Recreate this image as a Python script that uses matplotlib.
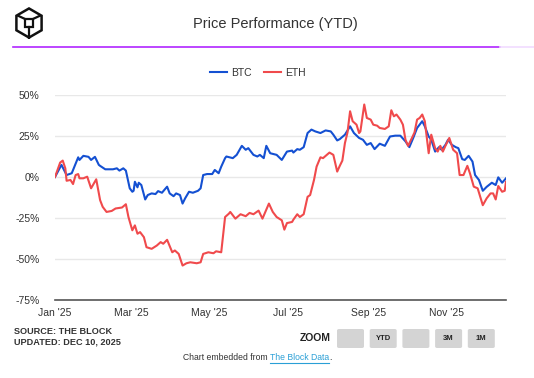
import matplotlib
matplotlib.use("Agg")
import matplotlib.pyplot as plt
import matplotlib.dates as mdates
from matplotlib.patches import FancyBboxPatch, RegularPolygon
import numpy as np
import pandas as pd

plt.rcParams['font.family'] = ['Liberation Sans', 'DejaVu Sans']

# days since 2025-01-01 and YTD % change
btc_days = [0, 5, 9, 13, 18, 19, 22, 26, 28, 31, 34, 35, 39, 45, 48, 50, 53, 55, 58, 60,
            61, 62, 64, 65, 67, 70, 72, 75, 78, 80, 83, 87, 89, 92, 94, 97, 99, 101, 104, 107,
            111, 113, 115, 118, 122, 124, 127, 129, 132, 133, 138, 141, 145, 148, 150, 154, 157, 159, 162, 164,
            167, 172, 176, 180, 184, 185, 188, 190, 193, 196, 199, 202, 206, 210, 214, 216, 219, 221, 225, 229,
            232, 236, 239, 242, 245, 248, 252, 256, 260, 264, 268, 272, 275, 278, 281, 285, 287, 290, 292, 295,
            298, 300, 303, 305, 308, 311, 313, 316, 318, 321, 324, 326, 329, 332, 335, 339, 342, 344, 347, 350]
btc_pct = [0, 7.4, 1.2, 2.3, 12, 10.4, 12.9, 12.3, 10.4, 12.3, 7.4, 6.8, 4.7, 4.7, 5.3, 3.9, 5.3, 3.9, -6.9, -9,
           -8.4, -2.9, -6.3, -3.5, -4.9, -13.7, -11, -10, -10.4, -8.6, -9.6, -5.9, -10, -11.7, -10, -11, -16.2, -13, -9, -9.6,
           -8.4, -6.9, 1.2, 1.8, 1.8, 4.3, 2.3, 6.3, 11.5, 12.5, 11.5, 13.5, 19, 16.6, 17.6, 13.5, 12.5, 13.5, 11.5, 19,
           14.5, 13.5, 10.4, 15.5, 16.1, 14.9, 17, 16.6, 18.2, 26.8, 28.9, 27.8, 26.8, 28.4, 27.8, 25.8, 22.3, 23.1, 25.8, 30.9,
           26.8, 23.8, 22.7, 19.6, 20.7, 17, 20.3, 19, 24.7, 25.2, 25.2, 21.7, 18.2, 23.8, 29.9, 34, 30.9, 24.7, 22.7, 15.5,
           18.2, 16.6, 19.6, 22.7, 19.6, 18.2, 17.6, 10.9, 10.4, 12.9, 9.4, 1.2, -1.8, -8.4, -6, -3.5, -4.9, -0.2, -3.5, -0.8]

eth_days = [0, 4, 6, 8, 9, 12, 14, 16, 18, 19, 22, 25, 28, 32, 35, 37, 40, 44, 47, 52,
            55, 57, 60, 62, 64, 66, 69, 71, 75, 79, 82, 84, 87, 91, 93, 96, 99, 102, 105, 110,
            113, 115, 119, 123, 125, 129, 132, 135, 136, 140, 144, 148, 151, 154, 158, 161, 166, 169, 172, 176,
            178, 180, 184, 185, 188, 190, 193, 196, 198, 201, 203, 206, 208, 211, 213, 216, 219, 221, 223, 225,
            227, 229, 231, 234, 236, 237, 240, 242, 245, 247, 250, 252, 256, 259, 261, 263, 265, 268, 270, 272,
            274, 277, 279, 281, 283, 285, 287, 290, 292, 295, 297, 299, 301, 303, 306, 309, 312, 314, 317, 320,
            322, 325, 328, 330, 332, 335, 338, 340, 342, 344, 347, 349, 350]
eth_pct = [0, 8.8, 10, 5.3, -2.3, -1.8, -4.3, 1.2, 1.8, -0.8, -0.8, 0.2, -6.9, -1.4, -14.1, -18.2, -21.3, -20.7, -19.2, -18.6,
           -16.6, -24.4, -32.5, -29.5, -34.6, -33.6, -36.7, -42.8, -43.8, -41.8, -39.7, -40.7, -38.3, -45.9, -44.8, -46.9, -54, -52.6, -52, -52.6,
           -52, -46.9, -45.9, -46.5, -45.3, -45.9, -24.4, -22.3, -21.3, -25.4, -22.7, -23.9, -21.9, -22.7, -20.5, -25.4, -16.2, -21.3, -24.4, -26.4,
           -32.1, -28.1, -27.4, -26, -22.7, -24.4, -22.7, -12.1, -11, -1.8, 6.3, 12, 11.5, 13.5, 14.9, 13.5, 3.3, 6.8, 10, 20.7,
           27.2, 40.1, 34, 31.9, 26.8, 27.8, 44.2, 36, 35, 31.9, 31.3, 29.9, 29.3, 30.9, 40.7, 37, 38.1, 35, 31.9, 22.7,
           19, 23.8, 27.2, 35, 36, 38.1, 34, 14.5, 25.8, 17.6, 15.5, 19, 15.5, 19, 23.8, 16.6, 14.5, 1.2, 1.2, 6.8,
           2.3, -5.9, -6.9, -12.1, -17.2, -13, -10, -10, -13.7, -5.5, -9, -8.4, -2.9]

y_ticks = [50, 25, 0, -25, -50, -75]
zoom_buttons = ['', 'YTD', '', '3M', '1M']

start = pd.Timestamp('2025-01-01')
btc_x = start + pd.to_timedelta(btc_days, unit='D')
eth_x = start + pd.to_timedelta(eth_days, unit='D')

W, H = 534, 378
fig = plt.figure(figsize=(W / 100, H / 100), dpi=100)


def fx(px):
    return px / W


def fy(py):
    return 1 - py / H


# logo (hexagon cube)
lax = fig.add_axes([fx(12), fy(39), fx(34), 32 / H])
lax.set_xlim(-1.15, 1.15)
lax.set_ylim(-1.1, 1.1)
lax.set_aspect('equal')
lax.axis('off')
lax.add_patch(RegularPolygon((0, 0), 6, radius=1.0, orientation=0, fill=False, lw=1.8, color='#111111'))
lax.add_patch(plt.Rectangle((-0.28, -0.28), 0.56, 0.56, fill=False, lw=1.6, color='#111111'))
for a in [30, 150, 270]:
    r = np.deg2rad(a)
    lax.plot([0.28 * np.sign(np.cos(r)) if abs(np.cos(r)) > 0.1 else 0, 0.87 * np.cos(r)],
             [0.28 * np.sign(np.sin(r)), 1.0 * np.sin(r)], color='#111111', lw=1.6)

fig.text(fx(275), fy(24), 'Price Performance (YTD)', ha='center', va='center',
         fontsize=10.5, color='#333333')
fig.add_artist(plt.Line2D([fx(13), fx(500)], [fy(47), fy(47)], color='#b026ff', lw=1.2))
fig.add_artist(plt.Line2D([fx(500), fx(534)], [fy(47), fy(47)], color='#f1dcff', lw=1.2))

ax = fig.add_axes([fx(55), fy(300), fx(506 - 55), (300 - 95) / H])
l1, = ax.plot(btc_x, btc_pct, color='#1450d2', lw=1.5, label='BTC')
l2, = ax.plot(eth_x, eth_pct, color='#f04a4c', lw=1.5, label='ETH')

ax.set_ylim(-75, 50)
ax.set_yticks(y_ticks)
ax.set_yticklabels([f'{v}%' for v in y_ticks])
ax.set_xlim(start, start + pd.Timedelta(days=350))
ax.xaxis.set_major_locator(mdates.MonthLocator(bymonth=[1, 3, 5, 7, 9, 11]))
ax.xaxis.set_major_formatter(mdates.DateFormatter("%b '%y"))
ax.grid(axis='y', color='#e8e8e8', lw=1)
ax.set_axisbelow(True)
for s in ['top', 'right', 'left']:
    ax.spines[s].set_visible(False)
ax.spines['bottom'].set_color('#555555')
ax.spines['bottom'].set_linewidth(1.2)
ax.tick_params(axis='y', length=0, pad=11, labelsize=7.5, labelcolor='#333333')
ax.tick_params(axis='x', length=0, pad=6, labelsize=7.5, labelcolor='#333333')

fig.legend(handles=[l1, l2], loc='center', bbox_to_anchor=(fx(258), fy(73)), ncol=2,
           frameon=False, fontsize=7.5, handlelength=1.6, handletextpad=0.4,
           columnspacing=1.2, labelcolor='#333333')

fig.text(fx(14), fy(332), 'SOURCE: THE BLOCK', fontsize=6.6, fontweight='bold',
         color='#333333', va='center')
fig.text(fx(14), fy(342), 'UPDATED: DEC 10, 2025', fontsize=6.6, fontweight='bold',
         color='#333333', va='center')

fig.text(fx(331), fy(338), 'ZOOM', fontsize=7.5, fontweight='bold', color='#222222',
         ha='right', va='center')
bx = 337
for lab in zoom_buttons:
    fig.add_artist(FancyBboxPatch((fx(bx), fy(348)), fx(27), 19 / H,
                                  boxstyle='round,pad=0,rounding_size=0.004',
                                  transform=fig.transFigure, fc='#d4d4d4', ec='none'))
    if lab:
        fig.text(fx(bx + 13.5), fy(338.5), lab, fontsize=5.5, fontweight='bold',
                 color='#222222', ha='center', va='center')
    bx += 32.7

# footer: "Chart embedded from The Block Data."
t1 = fig.text(fx(270), fy(358), 'Chart embedded from ', fontsize=6.2, color='#333333',
              ha='right', va='center')
t2 = fig.text(fx(270), fy(358), 'The Block Data', fontsize=6.2, color='#2a9fd6',
              ha='left', va='center')
fig.canvas.draw()
bb = t2.get_window_extent()
x_end = bb.x1 / (W)
fig.add_artist(plt.Line2D([fx(270), x_end], [fy(363), fy(363)], color='#2a9fd6', lw=0.8))
fig.text(x_end, fy(358), '.', fontsize=6.2, color='#333333', ha='left', va='center')

fig.savefig('out.png', dpi=100)
